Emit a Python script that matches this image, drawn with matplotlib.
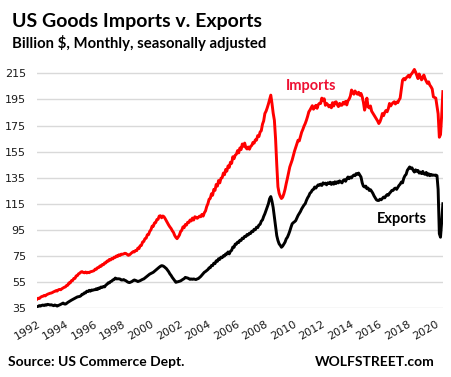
import matplotlib
matplotlib.use("Agg")
import matplotlib.pyplot as plt
import numpy as np
import pandas as pd

# monthly goods trade, billion $, Jan 1992 .. Jul 2020
imports = [
    41.7, 42.5, 42.3, 43.2, 43.8, 44.0, 44.6, 44.3, 45.1, 45.6, 46.0, 46.3,
    46.5, 46.9, 47.4, 47.8, 48.3, 48.0, 48.9, 49.3, 49.0, 49.8, 50.4, 50.9,
    51.2, 52.4, 52.5, 54.3, 54.2, 55.9, 56.0, 57.6, 57.7, 59.6, 59.8, 61.2,
    61.7, 62.6, 62.9, 62.3, 62.0, 62.6, 61.9, 62.4, 62.1, 62.8, 63.0, 63.3,
    63.6, 64.8, 64.7, 65.9, 66.0, 67.2, 67.0, 68.3, 68.2, 69.6, 69.6, 71.0,
    70.9, 72.3, 71.8, 73.0, 72.7, 74.0, 73.8, 75.0, 74.6, 75.8, 75.3, 76.3,
    76.2, 76.5, 77.0, 76.8, 76.1, 75.4, 75.8, 76.7, 77.5, 78.2, 78.0, 79.1,
    79.0, 81.0, 80.6, 82.8, 83.0, 85.6, 86.0, 88.2, 88.6, 91.2, 91.3, 93.8,
    95.0, 97.8, 97.6, 100.2, 100.5, 102.8, 103.0, 105.5, 105.8, 104.2, 105.6, 105.0,
    103.5, 101.8, 100.2, 98.6, 97.2, 96.0, 94.3, 93.0, 90.7, 89.2, 88.2, 89.5,
    91.0, 93.8, 94.5, 97.2, 96.6, 99.0, 98.6, 100.8, 100.6, 102.5, 101.8, 104.0,
    102.5, 105.0, 104.6, 103.8, 104.5, 105.5, 105.0, 106.8, 105.5, 108.0, 109.5, 112.8,
    115.0, 118.5, 119.0, 122.6, 121.5, 126.0, 125.2, 129.8, 128.5, 132.8, 131.0, 134.5,
    135.0, 138.5, 137.2, 141.3, 140.0, 144.0, 142.8, 146.8, 146.0, 151.0, 149.5, 152.2,
    153.0, 155.8, 154.0, 157.8, 156.5, 160.8, 159.0, 161.5, 158.0, 157.0, 158.5, 156.8,
    159.0, 159.8, 162.0, 161.5, 164.0, 163.8, 167.2, 166.5, 170.0, 171.0, 176.0, 178.5,
    184.2, 186.0, 188.5, 191.5, 195.0, 198.3, 192.0, 184.5, 179.0, 165.0, 145.0, 128.0,
    123.0, 120.5, 119.0, 120.0, 122.5, 126.0, 130.4, 134.5, 139.0, 143.2, 146.0, 148.5,
    152.0, 155.5, 158.0, 161.0, 163.7, 163.2, 166.5, 169.8, 172.0, 174.5, 176.5, 179.0,
    182.0, 185.5, 186.8, 188.5, 190.2, 187.5, 189.0, 190.5, 188.2, 191.0, 192.0, 191.9,
    196.0, 194.0, 195.5, 190.5, 192.0, 191.0, 189.3, 190.5, 188.6, 192.5, 190.0, 192.8,
    193.2, 191.0, 189.5, 192.0, 190.5, 190.6, 192.8, 191.5, 193.5, 190.8, 194.0, 195.2,
    197.5, 202.2, 200.5, 199.0, 201.5, 200.0, 199.0, 200.5, 198.2, 199.6, 197.0, 193.0,
    186.8, 190.5, 196.0, 189.3, 188.5, 190.0, 186.0, 184.5, 183.0, 181.5, 180.0, 178.5,
    176.5, 178.0, 180.5, 184.2, 182.5, 185.0, 186.5, 185.5, 188.0, 191.9, 190.0, 191.5,
    192.5, 193.2, 191.5, 193.0, 192.5, 194.5, 196.0, 203.0, 209.8, 211.0, 210.0, 211.5,
    212.4, 213.5, 212.0, 214.0, 215.0, 216.5, 218.0, 216.0, 213.5, 211.0, 214.5, 212.4,
    210.0, 211.5, 213.7, 211.0, 209.0, 207.3, 208.5, 206.0, 204.7, 203.0, 197.0, 196.5,
    196.0, 190.0, 184.0, 166.0, 168.0, 183.0, 201.0,
]

exports = [
    36.0, 36.3, 36.8, 36.5, 37.0, 37.3, 36.9, 37.5, 37.2, 37.8, 37.6, 37.3,
    37.5, 37.1, 36.8, 37.3, 37.0, 36.5, 36.9, 37.4, 37.8, 38.3, 38.8, 38.1,
    38.0, 38.6, 39.3, 39.9, 40.4, 41.0, 41.5, 42.1, 42.6, 43.0, 43.5, 43.7,
    43.9, 44.4, 45.5, 45.6, 46.6, 46.6, 47.9, 47.6, 48.6, 47.9, 48.8, 48.6,
    49.0, 49.0, 49.8, 49.2, 50.3, 50.1, 51.1, 50.8, 51.5, 51.2, 52.6, 53.2,
    54.3, 54.3, 55.3, 55.6, 56.6, 56.8, 58.0, 57.3, 57.4, 57.4, 57.2, 56.5,
    56.5, 56.8, 56.3, 55.9, 55.2, 54.7, 54.5, 54.9, 55.3, 56.0, 56.5, 56.2,
    55.8, 55.3, 55.6, 56.0, 56.5, 57.0, 57.3, 58.0, 58.8, 59.5, 60.2, 61.0,
    61.5, 62.0, 62.4, 63.2, 64.0, 64.8, 65.5, 66.3, 67.0, 67.5, 67.3, 66.8,
    66.0, 65.2, 64.0, 62.8, 61.2, 60.0, 58.5, 57.3, 56.0, 54.7, 55.0, 55.2,
    55.5, 55.8, 56.4, 57.0, 57.5, 58.5, 58.2, 58.0, 57.5, 57.0, 57.3, 57.0,
    57.3, 57.0, 56.8, 57.3, 57.6, 58.4, 59.2, 60.3, 61.5, 62.4, 63.0, 63.7,
    64.5, 65.8, 65.9, 67.6, 67.5, 69.4, 69.0, 71.2, 70.8, 72.8, 72.3, 74.0,
    73.6, 75.1, 74.8, 76.5, 76.3, 78.0, 76.5, 78.5, 79.2, 81.8, 81.5, 84.0,
    84.0, 85.6, 85.2, 87.0, 86.8, 88.6, 88.3, 90.0, 89.8, 91.4, 91.0, 92.4,
    92.2, 93.9, 93.6, 95.4, 95.0, 97.0, 96.6, 98.6, 99.2, 101.6, 102.6, 105.2,
    107.3, 110.0, 112.5, 115.0, 118.8, 120.5, 117.0, 112.0, 104.7, 98.0, 90.5, 86.8,
    84.2, 83.0, 81.6, 82.5, 84.0, 85.5, 88.0, 89.3, 91.5, 94.0, 97.0, 99.6,
    100.5, 101.2, 102.0, 104.0, 106.0, 107.5, 109.0, 111.0, 112.5, 114.0, 115.0, 117.5,
    119.5, 121.0, 123.0, 123.9, 125.5, 126.0, 127.8, 127.0, 128.5, 129.5, 129.1, 130.0,
    129.0, 131.0, 130.2, 130.8, 129.5, 131.0, 130.4, 131.5, 129.8, 131.2, 130.0, 131.8,
    130.5, 131.9, 131.0, 132.5, 131.6, 131.0, 132.8, 133.5, 132.2, 134.0, 135.5, 134.2,
    135.5, 134.8, 136.2, 137.0, 136.5, 138.1, 137.5, 138.5, 137.0, 135.5, 131.0, 128.5,
    127.8, 128.5, 126.5, 127.0, 125.2, 125.8, 124.5, 123.0, 121.0, 119.5, 118.0, 117.5,
    117.5, 118.5, 118.0, 119.0, 120.1, 119.5, 121.0, 122.0, 121.5, 123.0, 124.0, 125.2,
    125.2, 126.5, 127.0, 126.0, 127.5, 129.0, 130.0, 131.6, 131.0, 134.5, 136.5, 137.5,
    140.6, 141.9, 143.2, 142.0, 142.5, 140.6, 139.3, 141.0, 139.8, 140.5, 138.5, 139.3,
    138.1, 139.8, 138.0, 137.5, 139.0, 136.8, 138.0, 136.5, 137.5, 136.8, 137.0, 136.8,
    137.0, 136.5, 126.0, 92.0, 89.3, 101.5, 115.0,
]

start_month = "1992-01"
tick_years = list(range(1992, 2021, 2))
y_ticks = list(range(35, 216, 20))

dates = pd.date_range(start_month, periods=len(imports), freq="MS")

fig = plt.figure(figsize=(4.51, 3.77), dpi=100)
ax = fig.add_axes([0.082, 0.183, 0.9, 0.657])

ax.plot(dates, imports, color="#ff0000", lw=2.1, solid_joinstyle="round")
ax.plot(dates, exports, color="black", lw=2.1, solid_joinstyle="round")

ax.set_xlim(dates[0], dates[-1])
ax.set_ylim(35, 225)
ax.set_yticks(y_ticks)
ax.set_xticks([pd.Timestamp(f"{y}-01-01") for y in tick_years])
ax.set_xticklabels([str(y) for y in tick_years], rotation=30, ha="right",
                   rotation_mode="anchor", fontsize=8)
ax.tick_params(axis="both", length=0, labelsize=8, colors="#1a1a1a")
ax.tick_params(axis="y", pad=8)
ax.tick_params(axis="x", pad=8)
ax.grid(axis="y", color="#d9d9d9", lw=1)
ax.set_axisbelow(True)
for s in ax.spines.values():
    s.set_visible(False)

bold = dict(family="Lato", weight="bold")
fig.text(12 / 451, 1 - 27 / 377, "US Goods Imports v. Exports", fontsize=14, **bold)
fig.text(12 / 451, 1 - 48 / 377, "Billion $, Monthly, seasonally adjusted", fontsize=10.7, **bold)
fig.text(286 / 451, 1 - 90 / 377, "Imports", fontsize=10.5, color="#ee1133", **bold)
fig.text(377 / 451, 1 - 223 / 377, "Exports", fontsize=10.5, color="black", **bold)
fig.text(8 / 451, 1 - 366 / 377, "Source: US Commerce Dept.", fontsize=10, **bold)
fig.text(435 / 451, 1 - 366 / 377, "WOLFSTREET.com", fontsize=10, ha="right", **bold)

fig.savefig("out.png", dpi=100)
